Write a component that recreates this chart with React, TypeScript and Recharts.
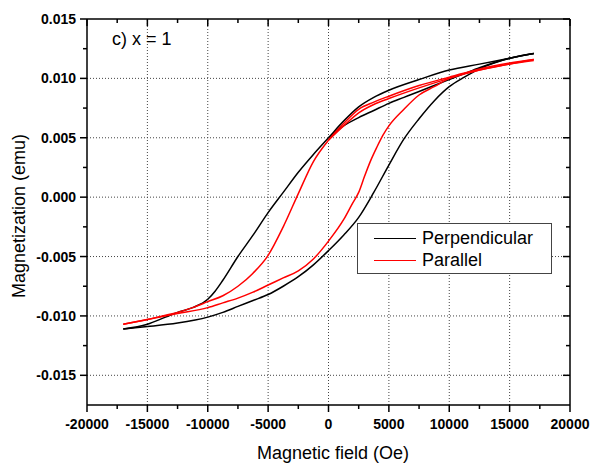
import { LineChart, Line, XAxis, YAxis, ReferenceLine } from "recharts";

const FONT = "Arial, 'Liberation Sans', sans-serif";
const CHART_W = 597;
const CHART_H = 463;
// plot box edges in page pixels
const PLOT = { left: 87, top: 19, right: 570, bottom: 405 };

const xTicks = [
  -20000, -17500, -15000, -12500, -10000, -7500, -5000, -2500, 0, 2500, 5000, 7500, 10000, 12500,
  15000, 17500, 20000,
];
const yTicks = [
  -0.015, -0.0125, -0.01, -0.0075, -0.005, -0.0025, 0, 0.0025, 0.005, 0.0075, 0.01, 0.0125, 0.015,
];
const xGrid = [-15000, -10000, -5000, 0, 5000, 10000, 15000];
const yGrid = [-0.015, -0.01, -0.005, 0, 0.005, 0.01];

type Pt = { h: number; m: number };
const toPts = (rows: number[][]): Pt[] => rows.map(([h, m]) => ({ h, m }));

// Perpendicular (black): first sweep from remanence, upper branch, lower branch
const perpInit = toPts([
  [0, 0.005], [1250, 0.006], [2500, 0.0067], [3750, 0.0073], [5000, 0.0079], [6250, 0.0084],
  [7500, 0.0089], [8750, 0.0094], [10000, 0.0099], [11250, 0.0104], [12500, 0.0109],
  [15000, 0.0117], [17000, 0.0121],
]);
const perpDown = toPts([
  [-17000, -0.0111], [-15000, -0.0107], [-13500, -0.0101], [-12500, -0.0097], [-11250, -0.0093],
  [-10000, -0.0086], [-9375, -0.0079], [-8750, -0.007], [-7500, -0.005], [-6250, -0.0032],
  [-5000, -0.0013], [-3750, 0.0004], [-2500, 0.0021], [-1250, 0.0036], [0, 0.005], [1250, 0.0064],
  [2500, 0.0076], [3750, 0.0084], [5000, 0.009], [7500, 0.0099], [10000, 0.0107], [12500, 0.0112],
  [15000, 0.0117], [17000, 0.0121],
]);
const perpUp = toPts([
  [-17000, -0.0111], [-15000, -0.0109], [-12500, -0.0106], [-10000, -0.0101], [-8750, -0.0097],
  [-7500, -0.0092], [-6250, -0.0087], [-5000, -0.0082], [-3750, -0.0075], [-2500, -0.0067],
  [-1250, -0.0057], [0, -0.0045], [1250, -0.0032], [2500, -0.0017], [3750, 0.0004], [5000, 0.0027],
  [6250, 0.0049], [7500, 0.0066], [8750, 0.0081], [10000, 0.0093], [11250, 0.0101],
  [12500, 0.0108], [15000, 0.0117], [17000, 0.0121],
]);

// Parallel (red)
const parInit = toPts([
  [0, 0.0048], [1250, 0.006], [2500, 0.0071], [3750, 0.0078], [5000, 0.0083], [7500, 0.0092],
  [10000, 0.01], [12500, 0.0107], [15000, 0.0112], [17000, 0.0115],
]);
const parDown = toPts([
  [-17000, -0.0107], [-15000, -0.0103], [-13750, -0.01], [-12500, -0.0097], [-11250, -0.0093],
  [-10000, -0.0088], [-8750, -0.0083], [-7500, -0.0075], [-6250, -0.0064], [-5000, -0.0049],
  [-3750, -0.0025], [-2500, 0.0003], [-1250, 0.003], [0, 0.0048], [1250, 0.0062], [2500, 0.0074],
  [3750, 0.008], [5000, 0.0085], [7500, 0.0094], [10000, 0.0101], [12500, 0.0108],
  [15000, 0.0113], [17000, 0.0116],
]);
const parUp = toPts([
  [-17000, -0.0107], [-15000, -0.0103], [-12500, -0.0098], [-10000, -0.0093], [-8750, -0.0089],
  [-7500, -0.0085], [-6250, -0.008], [-5000, -0.0074], [-3750, -0.0068], [-2500, -0.0062],
  [-1250, -0.0052], [0, -0.0037], [1250, -0.0019], [2000, -0.0005], [2500, 0.0004], [3000, 0.0018],
  [3500, 0.0031], [4000, 0.0042], [4500, 0.0052], [5000, 0.006], [6250, 0.0074], [7500, 0.0086],
  [8750, 0.0093], [10000, 0.01], [12500, 0.0107], [15000, 0.0112], [17000, 0.0116],
]);

const series = [
  { key: "perpInit", data: perpInit, color: "#000000" },
  { key: "perpDown", data: perpDown, color: "#000000" },
  { key: "perpUp", data: perpUp, color: "#000000" },
  { key: "parInit", data: parInit, color: "#ff0000" },
  { key: "parDown", data: parDown, color: "#ff0000" },
  { key: "parUp", data: parUp, color: "#ff0000" },
];

const legendItems = [
  { name: "Perpendicular", color: "#000000" },
  { name: "Parallel", color: "#ff0000" },
];

const isMajorX = (v: number) => Math.abs(v % 5000) < 1e-9;
const isMajorY = (v: number) => Math.abs(Math.round(v / 0.005) * 0.005 - v) < 1e-9;

function XTick(props: any) {
  const { x, payload } = props;
  const major = isMajorX(payload.value);
  const len = major ? 7 : 4;
  return (
    <g>
      <line x1={x} x2={x} y1={PLOT.bottom} y2={PLOT.bottom + len} stroke="#000" strokeWidth={1.5} />
      <line x1={x} x2={x} y1={PLOT.top} y2={PLOT.top + len} stroke="#000" strokeWidth={1.5} />
      {major && (
        <text
          x={x}
          y={PLOT.bottom + 19}
          textAnchor="middle"
          dominantBaseline="central"
          fontFamily={FONT}
          fontWeight="bold"
          fontSize={14}
          fill="#000"
        >
          {payload.value}
        </text>
      )}
    </g>
  );
}

function YTick(props: any) {
  const { y, payload } = props;
  const major = isMajorY(payload.value);
  const len = major ? 7 : 4;
  return (
    <g>
      <line x1={PLOT.left - len} x2={PLOT.left} y1={y} y2={y} stroke="#000" strokeWidth={1.5} />
      <line x1={PLOT.right - len} x2={PLOT.right} y1={y} y2={y} stroke="#000" strokeWidth={1.5} />
      {major && (
        <text
          x={PLOT.left - 11}
          y={y}
          textAnchor="end"
          dominantBaseline="central"
          fontFamily={FONT}
          fontWeight="bold"
          fontSize={14}
          fill="#000"
        >
          {payload.value.toFixed(3)}
        </text>
      )}
    </g>
  );
}

export default function App() {
  const yAxisW = 60;
  const xAxisH = 30;
  return (
    <div style={{ position: "absolute", left: 0, top: 0, width: CHART_W, height: CHART_H, background: "#fff" }}>
      <LineChart
        width={CHART_W}
        height={CHART_H}
        margin={{
          top: PLOT.top,
          right: CHART_W - PLOT.right,
          left: PLOT.left - yAxisW,
          bottom: CHART_H - PLOT.bottom - xAxisH,
        }}
      >
        <XAxis
          type="number"
          dataKey="h"
          domain={[-20000, 20000]}
          ticks={xTicks}
          interval={0}
          allowDataOverflow
          height={xAxisH}
          tick={<XTick />}
          tickLine={false}
          axisLine={{ stroke: "#000", strokeWidth: 1.5 }}
        />
        <YAxis
          type="number"
          dataKey="m"
          domain={[-0.0175, 0.015]}
          ticks={yTicks}
          interval={0}
          allowDataOverflow
          width={yAxisW}
          tick={<YTick />}
          tickLine={false}
          axisLine={{ stroke: "#000", strokeWidth: 1.5 }}
        />
        {xGrid.map((v) => (
          <ReferenceLine key={`gx${v}`} x={v} stroke="#444" strokeDasharray="1 2" strokeWidth={1} />
        ))}
        {yGrid.map((v) => (
          <ReferenceLine key={`gy${v}`} y={v} stroke="#444" strokeDasharray="1 2" strokeWidth={1} />
        ))}
        <ReferenceLine x={20000} stroke="#000" strokeWidth={1.5} />
        <ReferenceLine y={0.015} stroke="#000" strokeWidth={1.5} />
        {series.map((s) => (
          <Line
            key={s.key}
            data={s.data}
            dataKey="m"
            type="monotone"
            stroke={s.color}
            strokeWidth={1.5}
            dot={false}
            activeDot={false}
            isAnimationActive={false}
          />
        ))}
      </LineChart>

      <svg
        width={CHART_W}
        height={CHART_H}
        style={{ position: "absolute", left: 0, top: 0, pointerEvents: "none" }}
      >
        <text x={112} y={45} fontFamily={FONT} fontSize={18} fill="#000">
          c) x = 1
        </text>
        <text x={333} y={459} textAnchor="middle" fontFamily={FONT} fontSize={18} fill="#000">
          Magnetic field (Oe)
        </text>
        <text
          x={25}
          y={216}
          textAnchor="middle"
          transform="rotate(-90 25 216)"
          fontFamily={FONT}
          fontSize={18}
          fill="#000"
        >
          Magnetization (emu)
        </text>
      </svg>

      <div
        style={{
          position: "absolute",
          left: 357,
          top: 223,
          width: 193,
          height: 49,
          border: "1.5px solid #444",
          background: "#fff",
          fontFamily: FONT,
          fontSize: 18,
        }}
      >
        {legendItems.map((it, i) => (
          <div
            key={it.name}
            style={{ position: "absolute", left: 16, top: 3 + i * 22, height: 22, display: "flex", alignItems: "center" }}
          >
            <span style={{ display: "inline-block", width: 42, height: 0, borderTop: `1.5px solid ${it.color}`, marginRight: 6 }} />
            <span style={{ lineHeight: "22px" }}>{it.name}</span>
          </div>
        ))}
      </div>
    </div>
  );
}
